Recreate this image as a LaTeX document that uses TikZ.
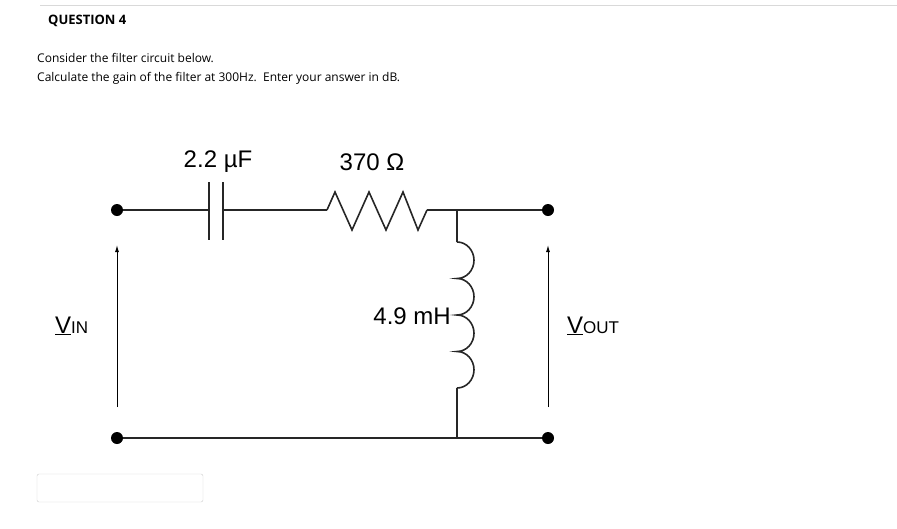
\documentclass[tikz,border=0pt]{standalone}
\usepackage{fontspec}
\setmainfont{Open Sans}
\newfontfamily\arialfont{Liberation Sans}
\usetikzlibrary{arrows.meta}
\tikzset{
  wire/.style={line width=1.6pt, black!85},
  term/.style={circle, fill=black, inner sep=0pt, minimum size=12pt},
  volt/.style={line width=1pt, -{Latex[length=7pt,width=4pt]}},
  lbl/.style={font=\arialfont\fontsize{24}{26}\selectfont, inner sep=0pt},
  qtext/.style={anchor=west, inner sep=0pt, font=\fontsize{12}{14}\selectfont}
}
\begin{document}
\begin{tikzpicture}[x=1pt,y=-1pt]
\useasboundingbox (0,0) rectangle (897,528);

% question text
\draw[black!15, line width=0.8pt] (40,5) -- (897,5);
\node (q) [qtext, font=\bfseries\fontsize{13}{15}\selectfont] at (48,21) {QUESTION 4};
\node (l1) [qtext] at (37,58) {Consider the filter circuit below.};
\node (l2) [qtext] at (37,78) {Calculate the gain of the filter at 300Hz.\ \ Enter your answer in dB.};
\draw[black!20, rounded corners=2pt] (37,474) rectangle (203,502);

% terminals
\node (inA) [term] at (117,210) {};
\node (inB) [term] at (117,438) {};
\node (outA) [term] at (548,210) {};
\node (outB) [term] at (548,438) {};
\coordinate (c1) at (209,210);
\coordinate (c2) at (223,210);
\coordinate (r1) at (327,210);
\coordinate (r2) at (427,210);
\coordinate (j) at (457,210);
\coordinate (l1t) at (457,242);
\coordinate (l1b) at (457,388);
\coordinate (g) at (457,438);

% wires
\draw[wire] (inA) -- (c1);
\draw[wire] (c1 |- 0,182) -- (c1 |- 0,240);
\draw[wire] (c2 |- 0,182) -- (c2 |- 0,240);
\draw[wire] (c2) -- (r1);
\draw[wire] (r1) -- ++(8,-18) -- ++(17,38) -- ++(17,-38) -- ++(17,38) -- ++(17,-38) -- ++(15,38) -- (r2);
\draw[wire] (r2) -- (outA);
\draw[wire] (j) -- (l1t);
\draw[wire] (l1t) \foreach \k in {1,...,4} {arc (-90:90:17 and 18.25)};
\draw[wire] (l1b) -- (g);
\draw[wire] (inB) -- (outB);

% voltage arrows
\draw[volt] (117,407) -- (117,245);
\draw[volt] (548,407) -- (548,245);

% labels
\node (lc) [lbl] at (218,162) {2.2 µF};
\node (lr) [lbl] at (372,162) {370 Ω};
\node (ll) [lbl, anchor=east] at (451,316) {4.9 mH};
\node (vin) [lbl, anchor=west, font=\arialfont\fontsize{24}{26}\selectfont] at (55,326) {\underline{V}\fontsize{17}{18}\selectfont IN};
\node (vout) [lbl, anchor=west, font=\arialfont\fontsize{24}{26}\selectfont] at (567,326) {\underline{V}\fontsize{17}{18}\selectfont OUT};
\end{tikzpicture}
\end{document}
